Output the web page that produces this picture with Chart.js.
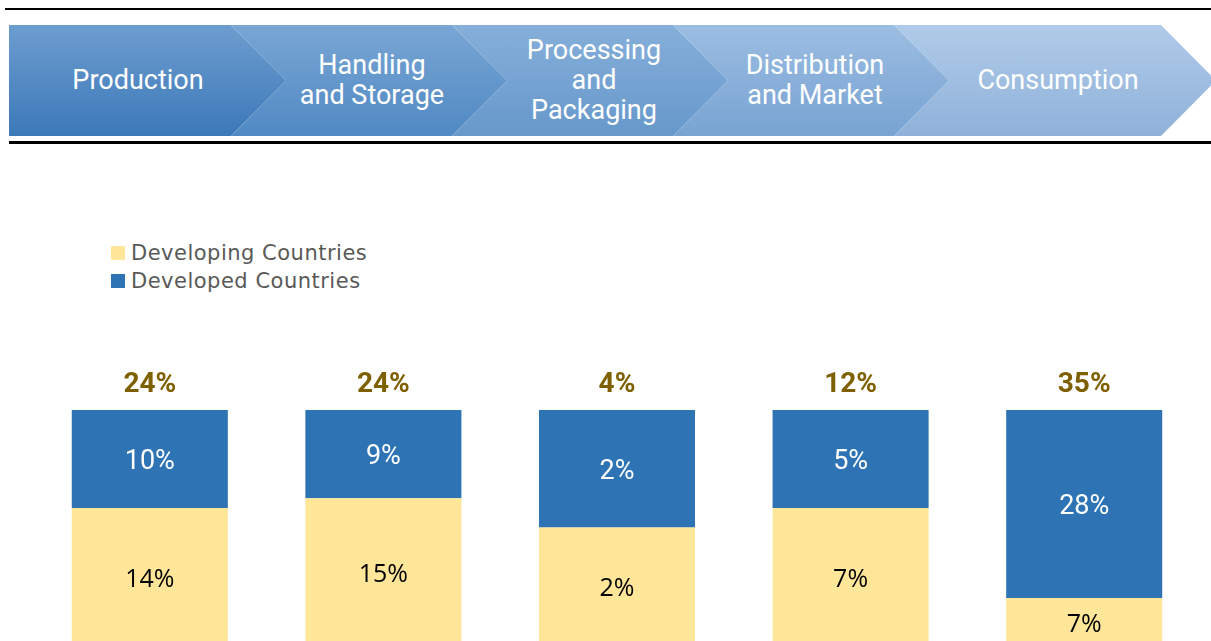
<!DOCTYPE html>
<html>
<head>
<meta charset="utf-8">
<script src="https://cdn.jsdelivr.net/npm/chart.js@4/dist/chart.umd.min.js"></script>
<style>
html, body { margin: 0; padding: 0; width: 1211px; height: 641px; overflow: hidden; background: #fff; font-family: Roboto, "Noto Sans", sans-serif; }
.rule { position: absolute; background: #000; }
.stage { position: absolute; top: 25px; height: 111px; }
.stageText { position: absolute; top: 24px; height: 111px; display: flex; align-items: center; justify-content: center; color: #fff; font-size: 27px; line-height: 30px; text-align: center; transform: translateX(-50%); white-space: nowrap; }
#legend { position: absolute; left: 111px; top: 239px; font-family: "DejaVu Sans", sans-serif; font-size: 21px; letter-spacing: 0.5px; color: #595959; }
#legend div { height: 28px; line-height: 28px; display: flex; align-items: center; }
#legend span { display: inline-block; width: 14px; height: 14px; margin-right: 6px; }
#chart { position: absolute; left: 0; top: 0; }
</style>
</head>
<body>
<div class="rule" style="left:5px; top:8px; width:1206px; height:2px;"></div>
<div class="rule" style="left:9px; top:141px; width:1202px; height:3px;"></div>
<div id="header"></div>
<div id="legend"></div>
<canvas id="chart" width="1211" height="700"></canvas>
<script>
const stages = ["Production", "Handling and Storage", "Processing and Packaging", "Distribution and Market", "Consumption"];
const stageLines = [["Production"], ["Handling", "and Storage"], ["Processing", "and", "Packaging"], ["Distribution", "and Market"], ["Consumption"]];
const developing = [14, 15, 2, 7, 7];
const developed = [10, 9, 2, 5, 28];

const seriesNames = ["Developing Countries", "Developed Countries"];
const seriesColors = ["#ffe699", "#2e74b5"];

/* Header chevrons */

const stageLeft = [9, 231, 452, 673, 894];
const stageFlatEnd = [231, 452, 673, 894, 1161];
const stageTextX = [138, 372, 594, 815, 1058];
const stageGradients = [
    ["#6d9dcf", "#3c79b9"],
    ["#79a6d4", "#5089c3"],
    ["#86afda", "#6698cb"],
    ["#9bbde2", "#78a3d2"],
    ["#b0cbe9", "#8fb1d9"]
];
const tip = 55;

const headerEl = document.querySelector("#header");

stages.forEach((stage, i) => {
    const left = stageLeft[i];
    const width = stageFlatEnd[i] - left + tip;
    const notch = i === 0 ? "0px 100%, 0px 0px" : `0px 100%, ${tip}px 50%, 0px 0px`;
    const shape = document.createElement("div");
    shape.className = "stage";
    shape.style.left = left + "px";
    shape.style.width = width + "px";
    shape.style.background = `linear-gradient(${stageGradients[i][0]}, ${stageGradients[i][1]})`;
    shape.style.clipPath = `polygon(0px 0px, ${width - tip}px 0px, ${width}px 50%, ${width - tip}px 100%, ${notch})`;
    headerEl.appendChild(shape);

    const text = document.createElement("div");
    text.className = "stageText";
    text.style.left = stageTextX[i] + "px";
    text.innerHTML = stageLines[i].join("<br>");
    headerEl.appendChild(text);
});

/* Legend */

const legendEl = document.querySelector("#legend");
seriesNames.forEach((name, i) => {
    const row = document.createElement("div");
    row.innerHTML = `<span style="background:${seriesColors[i]}"></span>${name}`;
    legendEl.appendChild(row);
});

/* Chart */

const totals = developing.map((v, i) => v + developed[i]);
const developingShare = developing.map((v, i) => v / totals[i] * 100);
const developedShare = developed.map((v, i) => v / totals[i] * 100);

const labelPlugin = {
    id: "barLabels",
    afterDatasetsDraw(chart) {
        const ctx = chart.ctx;
        ctx.save();
        ctx.textAlign = "center";
        ctx.textBaseline = "middle";

        chart.getDatasetMeta(0).data.forEach((bar, i) => {
            ctx.fillStyle = "#000";
            ctx.font = '25px "Open Sans", sans-serif';
            ctx.fillText(`${developing[i]}%`, bar.x, (bar.y + bar.base) / 2 + 3);
        });

        chart.getDatasetMeta(1).data.forEach((bar, i) => {
            ctx.fillStyle = "#fff";
            ctx.font = '27px Roboto, sans-serif';
            ctx.fillText(`${developed[i]}%`, bar.x, (bar.y + bar.base) / 2 + 3);

            ctx.fillStyle = "#7f6000";
            ctx.font = 'bold 28px Roboto, sans-serif';
            ctx.fillText(`${totals[i]}%`, bar.x, bar.y - 25);
        });

        ctx.restore();
    }
};

new Chart(document.querySelector("#chart"), {
    type: "bar",
    data: {
        labels: stages,
        datasets: [
            {
                label: seriesNames[0],
                data: developingShare,
                backgroundColor: seriesColors[0],
                borderWidth: 0
            },
            {
                label: seriesNames[1],
                data: developedShare,
                backgroundColor: seriesColors[1],
                borderWidth: 0
            }
        ]
    },
    options: {
        responsive: false,
        animation: false,
        categoryPercentage: 1,
        barPercentage: 0.668,
        layout: {
            padding: { left: 33, right: 10, top: 410, bottom: 55 }
        },
        plugins: {
            legend: { display: false },
            tooltip: { enabled: false }
        },
        scales: {
            x: { stacked: true, display: false },
            y: { stacked: true, display: false, min: 0, max: 100 }
        }
    },
    plugins: [labelPlugin]
});
</script>
</body>
</html>
